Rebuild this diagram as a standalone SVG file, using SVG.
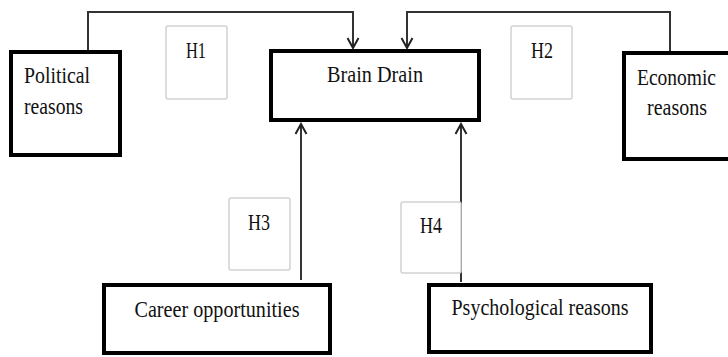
<svg xmlns="http://www.w3.org/2000/svg" width="728" height="357" viewBox="0 0 728 357">
<style>
.box{fill:#fff;stroke:#000;stroke-width:4}
.hyp{fill:#fff;stroke:#d2d2d2;stroke-width:1.5}
.t{font-family:"Liberation Serif","Times New Roman",serif;font-size:23px;fill:#111}
.m{text-anchor:middle}
.c{fill:none;stroke:#333;stroke-width:2}
</style>
<defs>
<marker id="arr" viewBox="-12 -7 14 14" markerWidth="14" markerHeight="14" markerUnits="userSpaceOnUse" orient="auto" refX="0" refY="0">
<path d="M-10,-5.5 L0,0 L-10,5.5" fill="none" stroke="#222" stroke-width="2"/>
</marker>
</defs>
<rect width="728" height="357" fill="#fff"/>
<g id="connectors">
<path class="c" d="M88,51 V12 H353 V48" marker-end="url(#arr)"/>
<path class="c" d="M670,51 V12 H407 V48" marker-end="url(#arr)"/>
<path class="c" d="M301,280 V124" marker-end="url(#arr)"/>
<path class="c" d="M461,282 V124" marker-end="url(#arr)"/>
</g>
<g id="h1"><rect class="hyp" x="166" y="26" width="61" height="73" rx="2"/><text class="t m" x="196" y="58" textLength="20" lengthAdjust="spacingAndGlyphs">H1</text></g>
<g id="h2"><rect class="hyp" x="511" y="26" width="61" height="73" rx="2"/><text class="t m" x="542" y="58" textLength="22" lengthAdjust="spacingAndGlyphs">H2</text></g>
<g id="h3"><rect class="hyp" x="229" y="198" width="61" height="72" rx="2"/><text class="t m" x="259" y="230" textLength="22" lengthAdjust="spacingAndGlyphs">H3</text></g>
<g id="h4"><rect class="hyp" x="401" y="202" width="60" height="71" rx="2"/><text class="t m" x="431" y="233" textLength="22" lengthAdjust="spacingAndGlyphs">H4</text></g>
<g id="political"><rect class="box" x="11" y="52" width="109" height="103"/><text class="t" x="24" y="83" textLength="66" lengthAdjust="spacingAndGlyphs">Political</text><text class="t" x="24" y="114" textLength="59" lengthAdjust="spacingAndGlyphs">reasons</text></g>
<g id="brain-drain"><rect class="box" x="271" y="51" width="208" height="69"/><text class="t m" x="375" y="82" textLength="96" lengthAdjust="spacingAndGlyphs">Brain Drain</text></g>
<g id="economic"><path class="box" d="M728,53 H624 V159 H728"/><text class="t" x="637" y="85" textLength="79" lengthAdjust="spacingAndGlyphs">Economic</text><text class="t" x="647" y="115" textLength="60" lengthAdjust="spacingAndGlyphs">reasons</text></g>
<g id="career"><rect class="box" x="104" y="285" width="226" height="68"/><text class="t m" x="217" y="317" textLength="165" lengthAdjust="spacingAndGlyphs">Career opportunities</text></g>
<g id="psychological"><rect class="box" x="429" y="285" width="222" height="67"/><text class="t m" x="540" y="315" textLength="177" lengthAdjust="spacingAndGlyphs">Psychological reasons</text></g>
</svg>
